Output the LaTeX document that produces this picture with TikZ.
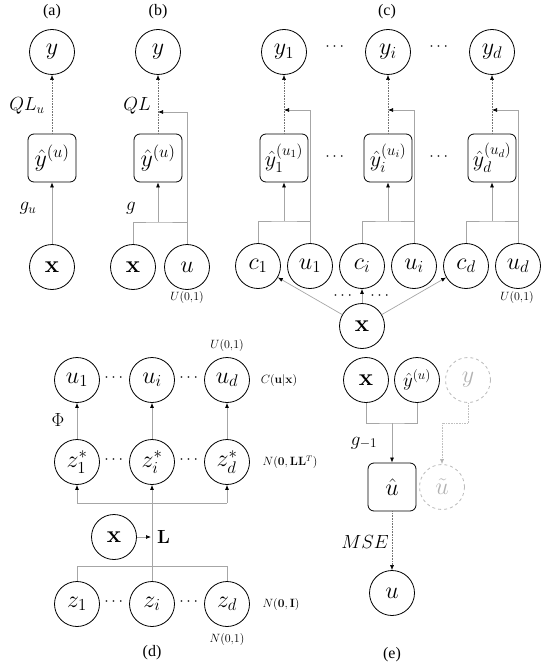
\RequirePackage{fix-cm}
\documentclass[tikz,border=0pt]{standalone}
\usepackage[no-math]{fontspec}
\setmainfont{Liberation Serif}
\usepackage{amsmath}
\usetikzlibrary{arrows.meta}
\newcommand{\fsz}[1]{\fontsize{#1}{#1}\selectfont}
\tikzset{
  var/.style={circle, draw, line width=0.8pt, minimum size=45pt, inner sep=0pt, font=\fsz{24}},
  fbox/.style={draw, rounded corners=6pt, line width=0.8pt, minimum size=48pt, inner sep=0pt, font=\fsz{24}},
  ghostvar/.style={var, draw=gray!55, dashed, text=gray!60},
  conn/.style={draw=gray!70, line width=0.7pt},
  tip/.style={-{Latex[length=5pt,width=4pt,color=black]}},
  gtip/.style={-{Latex[length=5pt,width=4pt,color=gray!60]}},
  loss/.style={draw=black!55, densely dotted, line width=0.6pt},
  gloss/.style={draw=gray!50, densely dotted, line width=0.6pt},
  lab/.style={font=\fsz{19}, inner sep=0pt},
  small/.style={font=\fsz{12}, inner sep=0pt},
  captxt/.style={font=\fsz{16}, inner sep=0pt},
  dots/.style={font=\fsz{16}, inner sep=0pt}
}
\begin{document}
\begin{tikzpicture}[x=1pt,y=-1pt]
\useasboundingbox (0,0) rectangle (540,668);

% ---------- (a) ----------
\node[captxt] (ca) at (52,12) {(a)};
\node[var] (ya) at (52,52) {$y$};
\node[fbox] (ba) at (52,158) {$\hat{y}^{(u)}$};
\node[var] (xa) at (52,267) {$\mathbf{x}$};
\node[lab] (qla) at (27,106) {$QL_u$};
\node[lab] (ga) at (28,208) {$g_u$};
\draw[conn,tip] (xa) -- (ba);
\draw[loss,tip] (ba) -- (ya);

% ---------- (b) ----------
\node[captxt] (cb) at (158,12) {(b)};
\node[var] (yb) at (158,52) {$y$};
\node[fbox] (bb) at (158,158) {$\hat{y}^{(u)}$};
\node[var] (xb) at (133,267) {$\mathbf{x}$};
\node[var] (ub) at (187,267) {$u$};
\node[small] (unb) at (187,297) {$U(0,\!1)$};
\node[lab] (qlb) at (137,106) {$QL$};
\node[lab] (gb) at (131,208) {$g$};
\coordinate (jb) at (158,222);
\coordinate (kb) at (158,112);
\draw[conn] (xb.north) |- (jb) -| (ub.north);
\draw[conn,tip] (jb) -- (bb.south);
\draw[conn,tip] (ub.north) |- (kb);
\draw[loss,tip] (bb) -- (yb);

% ---------- (c) ----------
\node[captxt] (cc) at (387,12) {(c)};
\foreach \k/\cx/\sub in {1/284/1, i/388/i, d/492/d}{
  \node[var] (yc\k) at (\cx,52) {$y_{\sub}$};
  \node[fbox, font=\fsz{22}] (bc\k) at (\cx,158) {$\hat{y}_{\sub}^{(u_{\sub})}$};
  \node[var] (cc\k) at (\cx-26,266) {$c_{\sub}$};
  \node[var] (uc\k) at (\cx+26,266) {$u_{\sub}$};
  \coordinate (jc\k) at (\cx,221);
  \coordinate (kc\k) at (\cx,110);
  \draw[conn] (cc\k.north) |- (jc\k) -| (uc\k.north);
  \draw[conn,tip] (jc\k) -- (bc\k.south);
  \draw[conn,tip] (uc\k.north) |- (kc\k);
  \draw[loss,tip] (bc\k) -- (yc\k);
}
\node[dots] (dc1) at (336,47) {$\cdots$};
\node[dots] (dc2) at (440,47) {$\cdots$};
\node[dots] (dc3) at (336,157) {$\cdots$};
\node[dots] (dc4) at (440,157) {$\cdots$};
\node[var] (xc) at (362,326) {$\mathbf{x}$};
\draw[conn,tip] (xc) -- (cc1);
\draw[conn,tip] (xc) -- (cci);
\draw[conn,tip] (xc) -- (ccd);
\node[dots] (dc5) at (344,296) {$\cdots$};
\node[dots] (dc6) at (381,296) {$\cdots$};
\node[small] (unc) at (517,297) {$U(0,\!1)$};

% ---------- (d) ----------
\foreach \k/\cx/\sub in {1/77/1, i/152/i, d/227/d}{
  \node[var] (ud\k) at (\cx,380) {$u_{\sub}$};
  \node[var] (zs\k) at (\cx,462) {$z_{\sub}^{*}$};
  \node[var] (zd\k) at (\cx,604) {$z_{\sub}$};
  \draw[conn,tip] (zs\k) -- (ud\k);
}
\foreach \n/\cx/\cy in {a/115/378, b/190/378, c/115/460, d/190/460, e/115/602, f/190/602}{
  \node[dots] (dd\n) at (\cx,\cy) {$\cdots$};
}
\node[small] (und) at (227,345) {$U(0,\!1)$};
\node[small] (cux) at (279,380) {$C(\mathbf{u}|\mathbf{x})$};
\node[lab] (phi) at (58,420) {$\Phi$};
\node[small] (nll) at (290,462) {$N(\mathbf{0},\mathbf{L}\mathbf{L}^{T})$};
\node[small] (ni) at (281,604) {$N(\mathbf{0},\mathbf{I})$};
\node[small] (n01) at (227,639) {$N(0,\!1)$};
\node[captxt] (cd) at (152,653) {(d)};
\coordinate (d1) at (77,503);
\coordinate (d3) at (227,503);
\draw[conn] (d1) -- (d3);
\draw[conn,tip] (d1) -- (zs1.south);
\draw[conn,tip] (d3) -- (zsd.south);
\draw[conn,tip] (zdi.north) -- (zsi.south);
\coordinate (e1) at (77,566);
\coordinate (e3) at (227,566);
\draw[conn] (zd1.north) -- (e1) -- (e3) -- (zdd.north);
\node[var] (xd) at (114,537) {$\mathbf{x}$};
\coordinate (lp) at (151,537);
\draw[conn,tip] (xd.east) -- (lp);
\node[lab, anchor=west] (ll) at (157,537) {$\mathbf{L}$};

% ---------- (e) ----------
\node[var] (xe) at (366,380) {$\mathbf{x}$};
\node[var, font=\fsz{19}] (yhe) at (417,380) {$\hat{y}^{(u)}$};
\node[ghostvar] (ye) at (468,380) {$y$};
\node[fbox] (uh) at (392,487) {$\hat{u}$};
\node[ghostvar] (ut) at (442,487) {$\tilde{u}$};
\node[var] (ue) at (392,593) {$u$};
\node[lab] (gm) at (364,443) {$g_{-1}$};
\node[lab] (mse) at (365,542) {$MSE$};
\node[captxt] (ce) at (392,655) {(e)};
\coordinate (je) at (392,423);
\coordinate (ke) at (442,423);
\draw[conn] (xe.south) |- (je) -| (yhe.south);
\draw[conn,tip] (je) -- (uh.north);
\draw[gloss,gtip] (ye.south) |- (ke) -- (ut.north);
\draw[loss,tip] (uh) -- (ue);
\end{tikzpicture}
\end{document}
